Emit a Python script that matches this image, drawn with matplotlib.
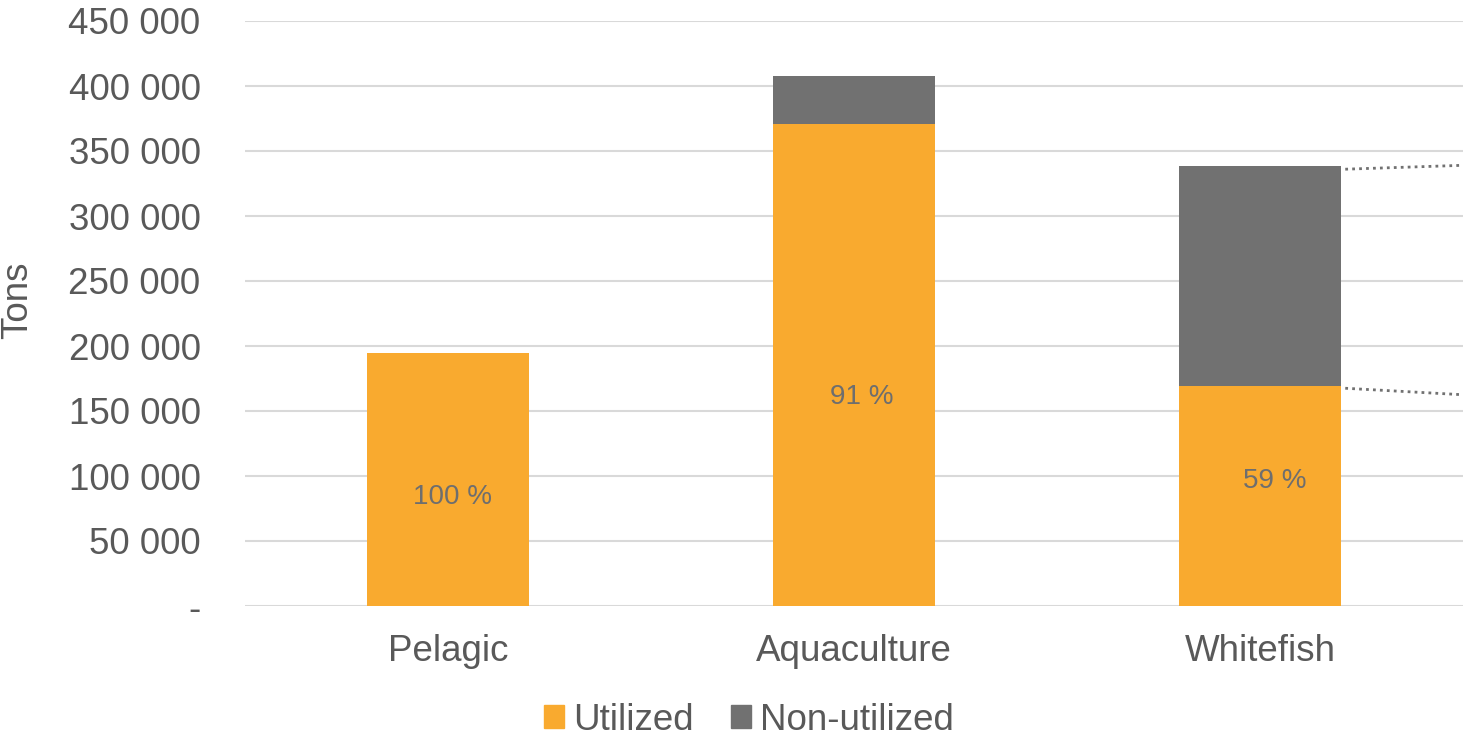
import matplotlib
matplotlib.use("Agg")
import matplotlib.pyplot as plt
from matplotlib.ticker import FuncFormatter
from matplotlib.patches import Patch

categories = ["Pelagic", "Aquaculture", "Whitefish"]
utilized = [195000, 371000, 169000]
non_utilized = [0, 36500, 169500]
share_labels = ["100 %", "91 %", "59 %"]
label_heights = [84000, 161000, 96000]

ORANGE = "#F9AA2F"
GREY = "#717171"
TEXT = "#595959"
GRID = "#D9D9D9"

plt.rcParams["font.family"] = ["Liberation Sans", "DejaVu Sans"]

fig = plt.figure(figsize=(14.63, 7.39), dpi=100)
ax = fig.add_axes([245 / 1463, 1 - 606 / 739, 1 - 245 / 1463, (606 - 21) / 739])

x = range(len(categories))
ax.bar(x, utilized, width=0.4, color=ORANGE, zorder=3)
ax.bar(x, non_utilized, width=0.4, bottom=utilized, color=GREY, zorder=3)

# share labels sit slightly right of bar centre, as in the original
label_shift = [0.012, 0.02, 0.037]
for i, (lbl, h) in enumerate(zip(share_labels, label_heights)):
    ax.text(i + label_shift[i], h, lbl, ha="center", va="center", fontsize=20,
            color="#6E6E6E", zorder=4)

# dotted connector lines from the whitefish bar towards the (cropped) breakdown
w = len(categories) - 1
top = utilized[w] + non_utilized[w]
ax.plot([w + 0.21, w + 0.5], [top - 2500, top + 500], ls=(0, (1, 1.5)), color=GREY,
        lw=2, clip_on=False, zorder=4)
ax.plot([w + 0.21, w + 0.5], [utilized[w] - 1500, utilized[w] - 6500], ls=(0, (1, 1.5)),
        color=GREY, lw=2, clip_on=False, zorder=4)

ax.set_xlim(-0.5, 2.5)
ax.set_ylim(0, 450000)
ax.set_yticks(range(0, 450001, 50000))
ax.yaxis.set_major_formatter(FuncFormatter(
    lambda v, _: "-" if v == 0 else f"{int(v):,}".replace(",", " ")))
ax.set_xticks(list(x))
ax.set_xticklabels(categories)
ax.tick_params(axis="y", length=0, pad=32, labelsize=26.5, labelcolor=TEXT)
ax.tick_params(axis="x", length=0, pad=20, labelsize=26.5, labelcolor=TEXT)
ax.grid(axis="y", color=GRID, lw=1.5, zorder=0)
for s in ax.spines.values():
    s.set_visible(False)

fig.text(18 / 1463, 1 - 300 / 739, "Tons", rotation=90, ha="center", va="center",
         fontsize=26.5, color=TEXT)

handles = [Patch(color=ORANGE, label="Utilized"), Patch(color=GREY, label="Non-utilized")]
fig.legend(handles=handles, loc="center", bbox_to_anchor=(749 / 1463, 1 - 720 / 739),
           ncol=2, frameon=False, fontsize=26.5, labelcolor=TEXT, handlelength=0.55,
           handleheight=0.55, handletextpad=0.25, columnspacing=1.0,
           borderpad=0.1)

fig.savefig("out.png", dpi=100)
